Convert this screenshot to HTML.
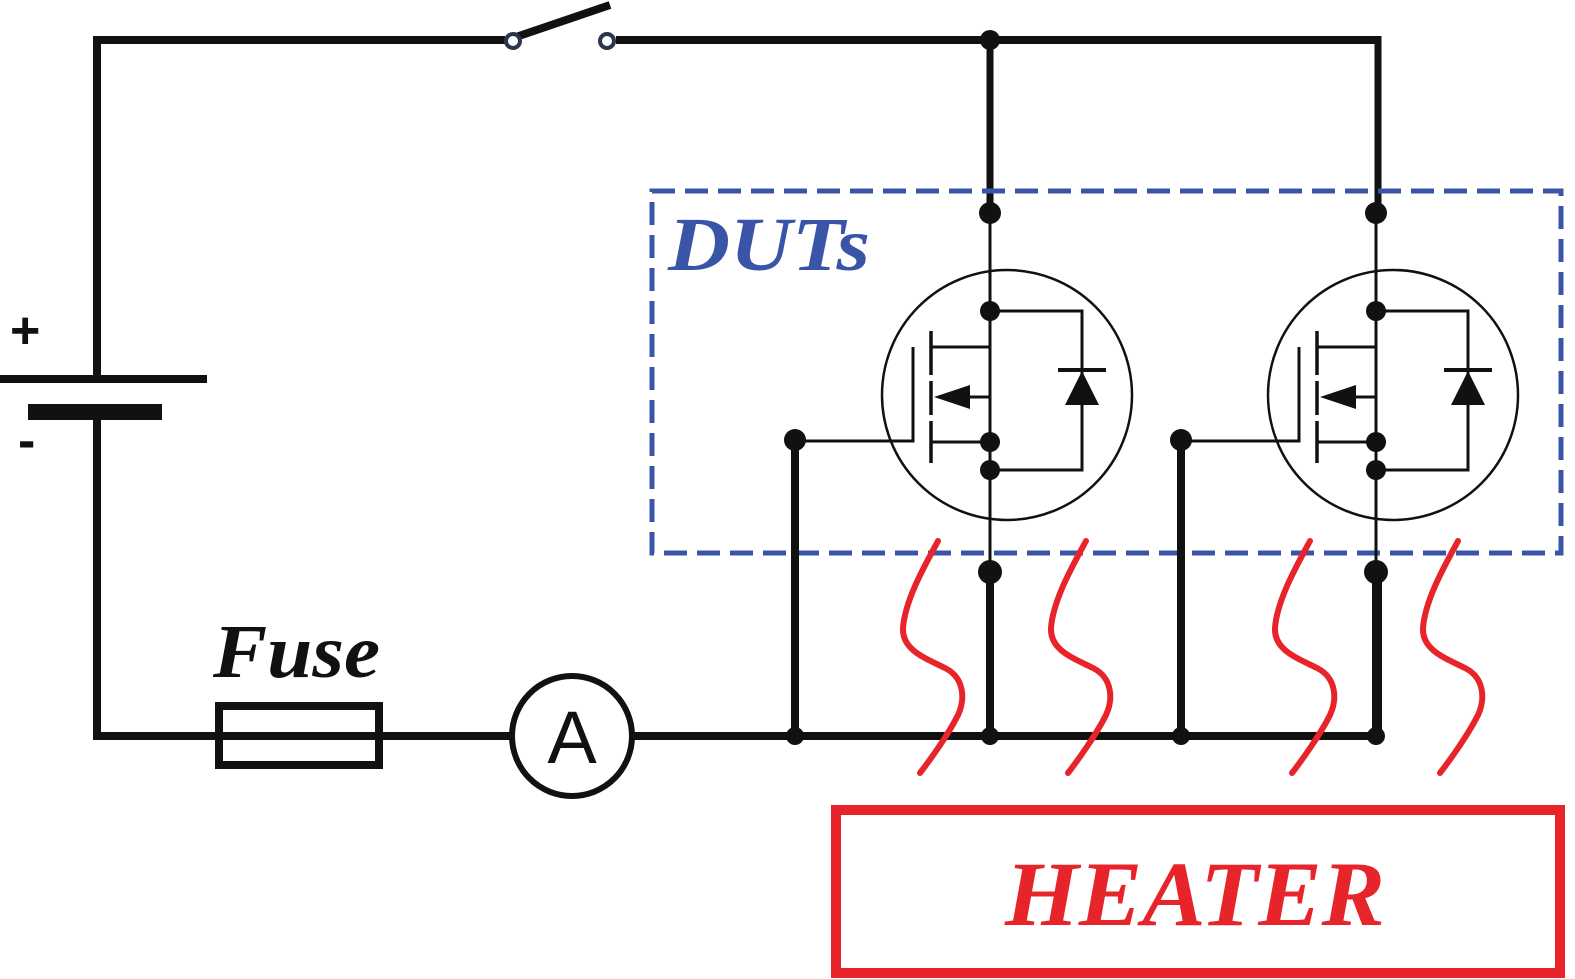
<!DOCTYPE html>
<html><head><meta charset="utf-8"><style>html,body{margin:0;padding:0;background:#fff}svg{display:block}</style></head>
<body>
<svg width="1575" height="979" viewBox="0 0 1575 979" xmlns="http://www.w3.org/2000/svg">
<g stroke="#111" fill="none" stroke-linecap="butt">
  <polyline points="505,40 97,40 97,378" stroke-width="8"/>
  <line x1="616" y1="40" x2="1378" y2="40" stroke-width="8"/>
  <line x1="1378" y1="36" x2="1378" y2="212" stroke-width="7"/>
  <line x1="990" y1="40" x2="990" y2="212" stroke-width="7"/>
  <line x1="0" y1="379" x2="207" y2="379" stroke-width="8"/>
  <line x1="28" y1="412" x2="162" y2="412" stroke-width="16"/>
  <line x1="97" y1="420" x2="97" y2="740" stroke-width="8"/>
  <line x1="97" y1="736" x2="512" y2="736" stroke-width="8"/>
  <line x1="632" y1="736" x2="1382" y2="736" stroke-width="8"/>
  <line x1="1378" y1="572" x2="1378" y2="740" stroke-width="8"/>
  <line x1="516" y1="37" x2="610" y2="5" stroke-width="8"/>
  <circle cx="513" cy="41" r="7" stroke="#2a3550" stroke-width="4" fill="#fff"/>
  <circle cx="607" cy="41" r="7" stroke="#2a3550" stroke-width="4" fill="#fff"/>
  <rect x="219" y="706" width="160" height="59" stroke-width="8"/>
  <circle cx="572" cy="736" r="60" stroke-width="6" fill="#fff"/>
</g>
<circle cx="990" cy="40" r="10" fill="#111"/>
<text x="572" y="763" font-family="Liberation Sans, sans-serif" font-size="74" text-anchor="middle" fill="#111">A</text>
<text x="10" y="348" font-family="Liberation Sans, sans-serif" font-size="52" font-weight="bold" fill="#111">+</text>
<text x="18" y="458" font-family="Liberation Sans, sans-serif" font-size="52" font-weight="bold" fill="#111">-</text>
<text x="213" y="677" font-family="Liberation Serif, serif" font-size="76" font-weight="bold" font-style="italic" fill="#111" textLength="167" lengthAdjust="spacingAndGlyphs">Fuse</text>

<rect x="652" y="191" width="909" height="362" fill="none" stroke="#3a55a8" stroke-width="5" stroke-dasharray="23,10"/>
<text x="668" y="270" font-family="Liberation Serif, serif" font-size="76" font-weight="bold" font-style="italic" fill="#3a55a8" textLength="202" lengthAdjust="spacingAndGlyphs">DUTs</text>

<defs>
<g id="mos">
  <g stroke="#111" fill="none">
    <circle cx="1007" cy="395" r="125" stroke-width="2.5"/>
    <line x1="990" y1="212" x2="990" y2="572" stroke-width="3"/>
    <line x1="990" y1="572" x2="990" y2="736" stroke-width="8"/>
    <line x1="795" y1="440" x2="795" y2="736" stroke-width="8"/>
    <polyline points="795,441 913,441 913,347" stroke-width="3"/>
    <line x1="931" y1="331" x2="931" y2="375" stroke-width="3.5"/>
    <line x1="931" y1="381" x2="931" y2="415" stroke-width="3.5"/>
    <line x1="931" y1="421" x2="931" y2="463" stroke-width="3.5"/>
    <polyline points="931,347 990,347" stroke-width="3"/>
    <polyline points="965,397 990,397 990,442" stroke-width="3"/>
    <line x1="931" y1="442" x2="990" y2="442" stroke-width="3"/>
    <polyline points="990,311 1082,311 1082,470 990,470" stroke-width="3"/>
    <line x1="1058" y1="370" x2="1106" y2="370" stroke-width="4"/>
  </g>
  <polygon points="934,397 970,385 970,409" fill="#111"/>
  <polygon points="1082,371 1065,405 1099,405" fill="#111"/>
  <g fill="#111">
    <circle cx="990" cy="213" r="11"/>
    <circle cx="990" cy="311" r="10"/>
    <circle cx="990" cy="442" r="10"/>
    <circle cx="990" cy="470" r="10"/>
    <circle cx="990" cy="572" r="12"/>
    <circle cx="795" cy="440" r="11"/>
    <circle cx="795" cy="736" r="9"/>
    <circle cx="990" cy="736" r="9"/>
  </g>
</g>
<path id="sq" d="M938,541 C925,565 905,600 903,628 C902,650 925,658 945,668 C965,678 965,700 958,715 C948,735 930,760 920,773" fill="none" stroke="#e8242b" stroke-width="6" stroke-linecap="round"/>
</defs>
<use href="#mos"/>
<use href="#mos" transform="translate(386,0)"/>
<use href="#sq"/>
<use href="#sq" transform="translate(148,0)"/>
<use href="#sq" transform="translate(372,0)"/>
<use href="#sq" transform="translate(520,0)"/>

<rect x="836" y="810" width="724" height="163" fill="none" stroke="#e8242b" stroke-width="10"/>
<text x="1005" y="925" font-family="Liberation Serif, serif" font-size="92" font-weight="bold" font-style="italic" fill="#e8242b" textLength="380" lengthAdjust="spacingAndGlyphs">HEATER</text>
</svg>
</body></html>
